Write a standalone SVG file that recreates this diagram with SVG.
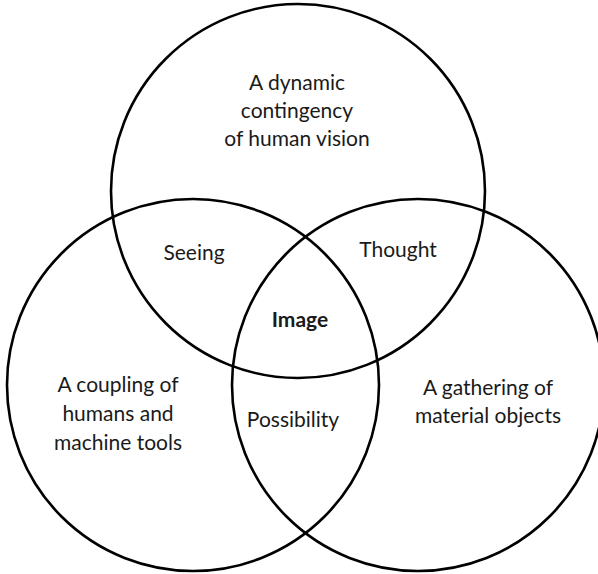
<svg xmlns="http://www.w3.org/2000/svg" width="598" height="574" viewBox="0 0 598 574">
  <style>
    .ring { fill: none; stroke: #000; stroke-width: 2.6; }
    .lbl { font-family: Lato, "Open Sans", "Liberation Sans", sans-serif; font-size: 21px; fill: #1a1a1a; text-anchor: middle; }
    .core { font-weight: bold; }
  </style>
  <rect width="598" height="574" fill="#fff"/>

  <!-- three overlapping sets -->
  <g id="connectors"/>
  <g id="set-vision">
    <circle class="ring" cx="298" cy="191" r="187"/>
    <text class="lbl" x="297" y="90">A dynamic</text>
    <text class="lbl" x="297" y="118">contingency</text>
    <text class="lbl" x="297" y="146">of human vision</text>
  </g>
  <g id="set-coupling">
    <circle class="ring" cx="193" cy="385" r="186"/>
    <text class="lbl" x="118" y="392">A coupling of</text>
    <text class="lbl" x="118" y="421">humans and</text>
    <text class="lbl" x="118" y="450">machine tools</text>
  </g>
  <g id="set-material">
    <circle class="ring" cx="418" cy="385" r="186"/>
    <text class="lbl" x="488" y="395">A gathering of</text>
    <text class="lbl" x="488" y="423">material objects</text>
  </g>

  <!-- overlap labels -->
  <g id="overlap-seeing"><text class="lbl" x="194" y="260">Seeing</text></g>
  <g id="overlap-thought"><text class="lbl" x="398" y="257">Thought</text></g>
  <g id="overlap-possibility"><text class="lbl" x="293" y="427">Possibility</text></g>
  <g id="overlap-image"><text class="lbl core" x="300" y="327">Image</text></g>
</svg>
